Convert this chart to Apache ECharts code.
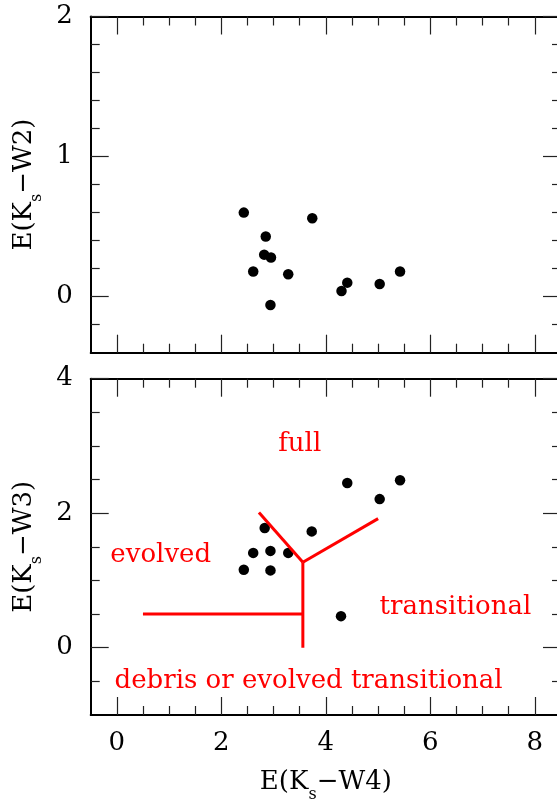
<!DOCTYPE html>
<html>
<head>
<meta charset="utf-8">
<script src="https://cdn.jsdelivr.net/npm/echarts@6/dist/echarts.min.js"></script>
<style>
  html, body { margin: 0; padding: 0; background: #fff; }
  #chart { width: 557px; height: 801px; }
</style>
</head>
<body>
<div id="chart"></div>
<script>
// Upper panel: E(Ks-W4) against E(Ks-W2)
const w4ExcessTop = [2.43, 3.74, 2.85, 2.82, 2.95, 2.61, 3.28, 5.42, 4.41, 4.30, 5.03, 2.94];
const w2Excess    = [0.60, 0.56, 0.43, 0.30, 0.28, 0.18, 0.16, 0.18, 0.10, 0.04, 0.09, -0.06];

// Lower panel: E(Ks-W4) against E(Ks-W3)
const w4ExcessBottom = [4.41, 5.42, 5.03, 2.83, 3.73, 2.61, 2.94, 3.28, 2.43, 2.94, 4.29];
const w3Excess       = [2.45, 2.49, 2.21, 1.78, 1.73, 1.41, 1.44, 1.41, 1.16, 1.15, 0.47];

// Disc classification boundaries, each a pair of [E(Ks-W4), E(Ks-W3)] points
const boundaryEvolved   = [[0.5, 0.5], [3.56, 0.5]];
const boundaryVertical  = [[3.56, 0.0], [3.56, 1.27]];
const boundaryFullLeft  = [[2.72, 2.01], [3.56, 1.27]];
const boundaryFullRight = [[3.56, 1.27], [5.0, 1.92]];

// Region names and where they sit in data space
const regionNames = ['full', 'evolved', 'transitional', 'debris or evolved transitional'];
const regionX = [3.5, 0.84, 6.48, 3.67];
const regionY = [3.02, 1.38, 0.6, -0.5];

// Tick positions
const xMajorTicks = [0, 2, 4, 6, 8];
const xMinorTicks = [0.5, 1, 1.5, 2.5, 3, 3.5, 4.5, 5, 5.5, 6.5, 7, 7.5];
const yTopMajorTicks = [0, 1, 2];
const yTopMinorTicks = [-0.2, 0.2, 0.4, 0.6, 0.8, 1.2, 1.4, 1.6, 1.8];
const yBottomMajorTicks = [0, 2, 4];
const yBottomMinorTicks = [-0.5, 0.5, 1, 1.5, 2.5, 3, 3.5];

const SERIF = 'DejaVu Serif';
const TICK_COLOR = '#222';

// Axis title with a subscript "s" on K
function axisTitle(band) {
  return '{a|E(K}{s|s}{a|\u2212' + band + ')}';
}
const titleRich = {
  a: { fontFamily: SERIF, fontSize: 26, color: '#000', verticalAlign: 'bottom', padding: [0, 0, 8, 0] },
  s: { fontFamily: SERIF, fontSize: 16, color: '#000', verticalAlign: 'bottom' }
};

// One side of a panel frame: a major axis (line, long ticks, optional labels)
// plus an overlaid minor axis (short ticks only).
function frameSide(gridIndex, position, min, max, major, minor, opts) {
  opts = opts || {};
  const majorAxis = {
    type: 'value', gridIndex: gridIndex, position: position, min: min, max: max,
    axisLine: { show: !!opts.line, onZero: false, lineStyle: { color: '#000', width: 2 } },
    axisTick: { show: true, inside: true, length: 18, customValues: major,
                lineStyle: { color: TICK_COLOR, width: 1.2 } },
    axisLabel: { show: !!opts.labels, customValues: major, margin: opts.margin || 14,
                 fontFamily: SERIF, fontSize: 26, color: '#000' },
    splitLine: { show: false }
  };
  if (opts.name) {
    majorAxis.name = opts.name;
    majorAxis.nameLocation = 'middle';
    majorAxis.nameGap = opts.nameGap;
    majorAxis.nameTextStyle = { rich: titleRich };
  }
  const minorAxis = {
    type: 'value', gridIndex: gridIndex, position: position, min: min, max: max,
    axisLine: { show: false, onZero: false },
    axisTick: { show: true, inside: true, length: 9, customValues: minor,
                lineStyle: { color: TICK_COLOR, width: 1.2 } },
    axisLabel: { show: false },
    splitLine: { show: false }
  };
  return [majorAxis, minorAxis];
}

const xAxes = [
  // upper panel: bottom (index 0) and top
  ...frameSide(0, 'bottom', -0.5, 8.5, xMajorTicks, xMinorTicks, { line: true }),
  ...frameSide(0, 'top',    -0.5, 8.5, xMajorTicks, xMinorTicks, { line: true }),
  // lower panel: bottom (index 4) and top
  ...frameSide(1, 'bottom', -0.5, 8.5, xMajorTicks, xMinorTicks,
               { line: true, labels: true, margin: 15, name: axisTitle('W4'), nameGap: 54 }),
  ...frameSide(1, 'top',    -0.5, 8.5, xMajorTicks, xMinorTicks, { line: true })
];

const yAxes = [
  // upper panel: left (index 0) and right
  ...frameSide(0, 'left',  -0.4, 2, yTopMajorTicks, yTopMinorTicks,
               { line: true, labels: true, margin: 18, name: axisTitle('W2'), nameGap: 39 }),
  ...frameSide(0, 'right', -0.4, 2, yTopMajorTicks, yTopMinorTicks, { line: true }),
  // lower panel: left (index 4) and right
  ...frameSide(1, 'left',  -1, 4, yBottomMajorTicks, yBottomMinorTicks,
               { line: true, labels: true, margin: 18, name: axisTitle('W3'), nameGap: 39 }),
  ...frameSide(1, 'right', -1, 4, yBottomMajorTicks, yBottomMinorTicks, { line: true })
];

function boundarySeries(points) {
  return {
    type: 'line', xAxisIndex: 4, yAxisIndex: 4, data: points,
    symbol: 'none', silent: true, animation: false,
    lineStyle: { color: '#ff0000', width: 3 }
  };
}

const option = {
  backgroundColor: '#fff',
  animation: false,
  grid: [
    { left: 90.7, top: 16.5, width: 470.3, height: 336.2, containLabel: false, outerBoundsMode: 'none' },
    { left: 90.7, top: 378.7, width: 470.3, height: 336.3, containLabel: false, outerBoundsMode: 'none' }
  ],
  xAxis: xAxes,
  yAxis: yAxes,
  series: [
    {
      type: 'scatter', xAxisIndex: 0, yAxisIndex: 0,
      data: w4ExcessTop.map((x, i) => [x, w2Excess[i]]),
      symbol: 'circle', symbolSize: 10.5, itemStyle: { color: '#000', opacity: 1 }
    },
    {
      type: 'scatter', xAxisIndex: 4, yAxisIndex: 4,
      data: w4ExcessBottom.map((x, i) => [x, w3Excess[i]]),
      symbol: 'circle', symbolSize: 10.5, itemStyle: { color: '#000', opacity: 1 }
    },
    boundarySeries(boundaryEvolved),
    boundarySeries(boundaryVertical),
    boundarySeries(boundaryFullLeft),
    boundarySeries(boundaryFullRight),
    {
      type: 'scatter', xAxisIndex: 4, yAxisIndex: 4, silent: true,
      data: regionNames.map((n, i) => ({ name: n, value: [regionX[i], regionY[i]] })),
      symbolSize: 1, itemStyle: { color: '#fff', opacity: 0 },
      label: {
        show: true, position: 'inside', formatter: p => p.name,
        fontFamily: SERIF, fontSize: 26, color: '#ff0000', opacity: 1
      }
    }
  ]
};

const chart = echarts.init(document.getElementById('chart'), null, { renderer: 'canvas' });
chart.setOption(option);
</script>
</body>
</html>
